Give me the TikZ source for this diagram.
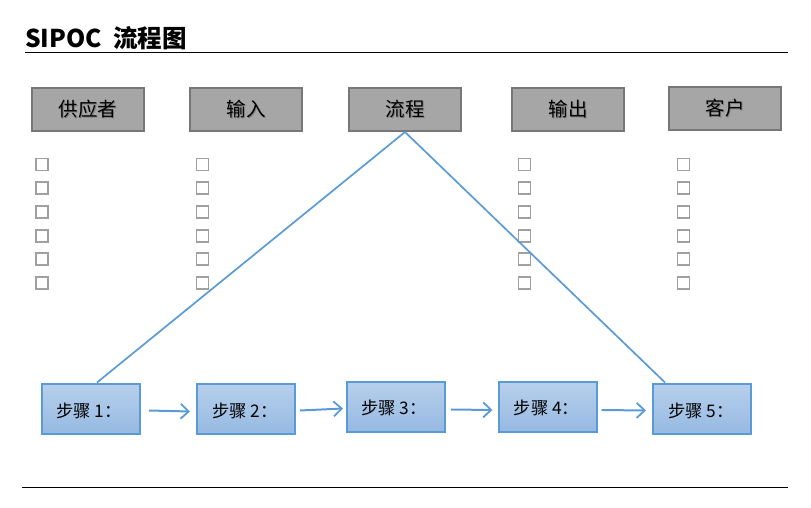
\documentclass[tikz,border=0pt]{standalone}
\usepackage{fontspec}
\setmainfont{Noto Sans CJK SC}
\newfontfamily\titlefont{Noto Sans CJK SC}
\usetikzlibrary{arrows.meta}
\definecolor{hdrfill}{HTML}{A6A6A6}
\definecolor{hdrline}{HTML}{777777}
\definecolor{stepline}{HTML}{5B9BD5}
\definecolor{steptop}{HTML}{B7D0EC}
\definecolor{stepbot}{HTML}{96B9E2}
\definecolor{chk}{HTML}{A0A0A0}
\tikzset{
  hdrbox/.style={draw=hdrline, line width=2pt, fill=hdrfill, minimum width=112pt, minimum height=43pt, inner sep=0pt, font=\fontsize{19.5}{22}\selectfont},
  stepbox/.style={draw=stepline, line width=2pt, top color=steptop, bottom color=stepbot, minimum width=98pt, minimum height=50pt, inner sep=0pt},
  steptext/.style={anchor=west, inner sep=0pt, font=\fontsize{17.3}{19}\selectfont},
  chkbox/.style={draw=chk, line width=1.8pt, minimum size=12pt, inner sep=0pt},
  flow/.style={draw=stepline, line width=2pt, -{Straight Barb[length=8pt,width=15pt,line width=1.8pt]}},
  link/.style={draw=stepline, line width=1.7pt}
}
\newcommand{\shtext}[1]{\makebox[0pt][l]{\raisebox{-1pt}{\hspace{1pt}\textcolor{black!50}{#1}}}#1}
\begin{document}
\begin{tikzpicture}[x=1pt,y=-1pt]
\useasboundingbox (0,0) rectangle (811,508);
% title
\node[anchor=base west, inner sep=0pt, font=\titlefont\bfseries\fontsize{24.5}{27}\selectfont] (title) at (25,48) {SIPOC\ \ 流程图};
\draw[line width=1pt] (25,53) coordinate (tl) -- (788,53) coordinate (tr);
\draw[line width=1pt] (22,487) coordinate (bl) -- (788,487) coordinate (br);
% headers
\node[hdrbox] (h1) at (88,109.5) {\shtext{供应者}};
\node[hdrbox] (h2) at (246,109.5) {\shtext{输入}};
\node[hdrbox] (h3) at (405,109.5) {\shtext{流程}};
\node[hdrbox] (h4) at (568,109.5) {\shtext{输出}};
\node[hdrbox] (h5) at (725,108.5) {\shtext{客户}};
% checkboxes
\foreach \cx/\nm in {42/a,202.5/b,524.5/c,683.5/d}{
  \foreach \i in {0,...,5}{
    \node[chkbox] (c\nm\i) at (\cx,{164.5+23.7*\i}) {};
  }
}
% steps
\node[stepbox] (s1) at (91,408.5) {};
\node[stepbox] (s2) at (246,408.5) {};
\node[stepbox] (s3) at (396,406.5) {};
\node[stepbox] (s4) at (547.5,407) {};
\node[stepbox] (s5) at (702,408.5) {};
\node[steptext] (t1) at ([xshift=15pt,yshift=-2pt]s1.west) {步骤 1：};
\node[steptext] (t2) at ([xshift=16pt,yshift=-2pt]s2.west) {步骤 2：};
\node[steptext] (t3) at ([xshift=15pt,yshift=-1pt]s3.west) {步骤 3：};
\node[steptext] (t4) at ([xshift=16pt,yshift=-1pt]s4.west) {步骤 4：};
\node[steptext] (t5) at ([xshift=16pt,yshift=-2pt]s5.west) {步骤 5：};
% lines from process
\draw[link] (h3.south) -- (s1.north -| 97,0);
\draw[link] (h3.south) -- (s5.north -| 665,0);
% flow arrows
\draw[flow] ([xshift=8pt,yshift=-2pt]s1.east) -- ([xshift=-6pt,yshift=-3pt]s2.west);
\draw[flow] ([xshift=4pt,yshift=-2pt]s2.east) -- ([xshift=-3pt,yshift=-2pt]s3.west);
\draw[flow] ([xshift=5pt,yshift=-3pt]s3.east) -- ([xshift=-5pt,yshift=-3pt]s4.west);
\draw[flow] ([xshift=4pt,yshift=-3pt]s4.east) -- ([xshift=-6pt,yshift=-2pt]s5.west);
\end{tikzpicture}
\end{document}
